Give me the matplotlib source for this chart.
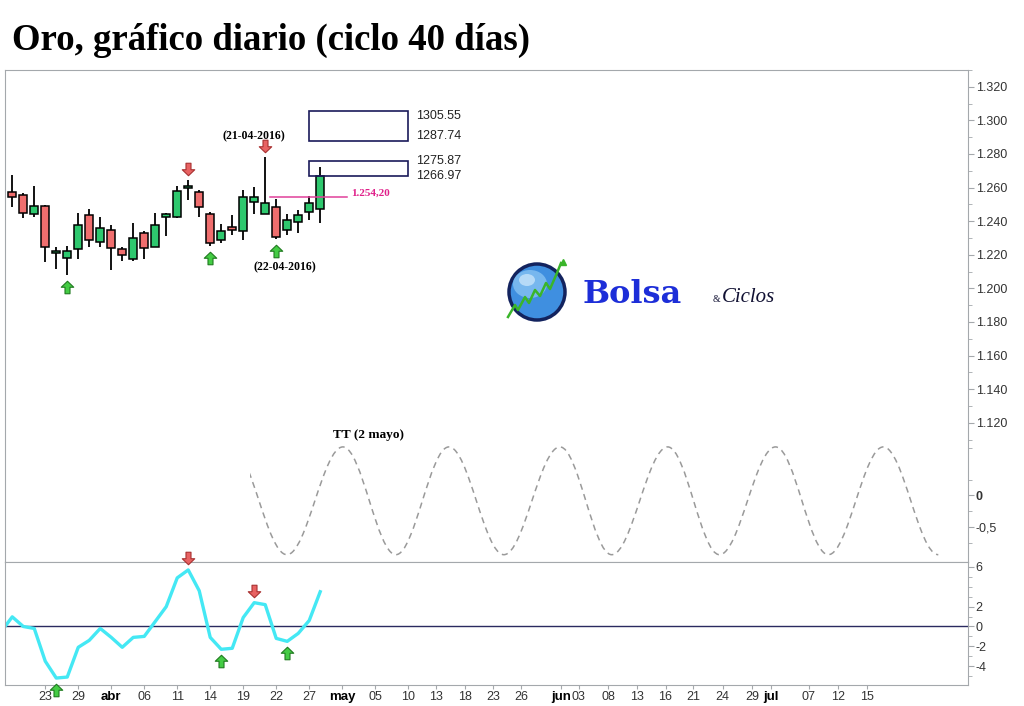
import numpy as np
import matplotlib
matplotlib.use('Agg')
import matplotlib.pyplot as plt
from matplotlib.path import Path
from matplotlib.patches import PathPatch, Rectangle, Circle, Ellipse
from matplotlib.transforms import offset_copy, Bbox, TransformedBbox

plt.rcParams['font.family'] = ['Liberation Sans', 'DejaVu Sans']

## daily bars, 18-03-2016 .. 28-04-2016 (bar index 0..28)
opens = [1257.5, 1255.3, 1244.5, 1248.8, 1221.0, 1218.1, 1223.4, 1243.5, 1227.5, 1234.5,
         1223.3, 1217.2, 1232.9, 1224.5, 1242.2, 1242.2, 1259.8, 1257.5, 1244.1, 1228.8,
         1236.3, 1234.0, 1251.6, 1244.5, 1248.6, 1234.7, 1239.8, 1245.7, 1247.5]
highs = [1267.6, 1256.9, 1261.2, 1249.8, 1224.5, 1225.1, 1245.1, 1247.1, 1242.4, 1237.6,
         1224.9, 1239.2, 1233.9, 1245.1, 1244.7, 1261.2, 1264.7, 1258.8, 1245.7, 1238.2,
         1243.5, 1258.8, 1260.2, 1278.1, 1253.5, 1244.1, 1246.5, 1254.9, 1272.2]
lows = [1248.6, 1241.8, 1242.5, 1215.7, 1211.4, 1207.8, 1217.2, 1224.9, 1224.9, 1210.8,
        1216.1, 1216.3, 1217.2, 1224.5, 1231.0, 1241.8, 1252.9, 1242.2, 1225.5, 1226.9,
        1232.0, 1229.0, 1244.1, 1244.0, 1229.4, 1231.8, 1232.8, 1240.8, 1239.2]
closes = [1254.6, 1244.6, 1248.8, 1224.5, 1222.2, 1222.2, 1237.6, 1228.6, 1235.7, 1224.0,
          1219.8, 1229.8, 1223.9, 1237.6, 1244.1, 1258.2, 1261.2, 1248.7, 1226.9, 1234.3,
          1234.9, 1254.5, 1254.5, 1250.6, 1230.8, 1240.6, 1243.5, 1250.6, 1266.6]

## oscillator (bar index -1..28)
osc = [-0.5, 0.97, 0.0, -0.2, -3.5, -5.2, -5.1, -2.1, -1.4, -0.2, -1.1, -2.1, -1.1, -1.0, 0.5,
       2.0, 4.9, 5.7, 3.6, -1.1, -2.3, -2.2, 0.9, 2.4, 2.2, -1.2, -1.5, -0.7, 0.6, 3.5]

## turning signals (bar index)
price_up = [5, 18, 24]
price_down = [16, 23]
osc_up = [4, 19, 25]
osc_down = [16, 22]

## target zones and levels
zone_lo = [1287.74, 1266.97]
zone_hi = [1305.55, 1275.87]
zone_start, zone_end = 27, 36
level = 1254.20
level_start, level_end = 23, 30

## 40 day cycle projection: turning points (bar position, value)
cycle_x = [19.9, 24.97, 30.06, 34.88, 39.7, 44.7, 49.8, 54.5, 59.6, 64.3, 69.4, 74.2, 79.2, 84.2]
cycle_y = [0.77, -0.94, 0.77, -0.94, 0.77, -0.94, 0.77, -0.94, 0.77, -0.94, 0.77, -0.94, 0.77, -0.94]
cycle_from = 21.6

## axis ticks
xtick_labels = ['23', '29', 'abr', '06', '11', '14', '19', '22', '27', 'may', '05', '10', '13', '18',
                '23', '26', 'jun', '03', '08', '13', '16', '21', '24', '29', 'jul', '07', '12', '15']
xtick_pos = [3, 6, 9, 12, 15, 18, 21, 24, 27, 30, 33, 36, 38.5, 41.2, 43.7, 46.3, 49.9, 51.5,
             54.2, 56.8, 59.4, 61.9, 64.6, 67.3, 69.0, 72.4, 75.1, 77.7]
months = ['abr', 'may', 'jun', 'jul']
price_ticks = [1120, 1140, 1160, 1180, 1200, 1220, 1240, 1260, 1280, 1300, 1320]

W, H = 1024.0, 706.0
GRAY = '#a4a8ac'


def px_box(x0, y0, x1, y1):
    '''figure rect from pixel corners (top-left origin)'''
    return [x0 / W, 1 - y1 / H, (x1 - x0) / W, (y1 - y0) / H]


def arrow_marker(up=True):
    v = [(-0.2, -0.5), (0.2, -0.5), (0.2, 0.02), (0.5, 0.02), (0.0, 0.5), (-0.5, 0.02),
         (-0.2, 0.02), (-0.2, -0.5)]
    if not up:
        v = [(a, -b) for a, b in v]
    return Path(v, [Path.MOVETO] + [Path.LINETO] * 6 + [Path.CLOSEPOLY])


def style_axis(a):
    for s in a.spines.values():
        s.set_color(GRAY)
    a.tick_params(axis='y', which='both', direction='out', color=GRAY, labelsize=9, pad=1.5,
                  labelcolor='#333333', left=False, right=True, labelleft=False, labelright=True)
    a.tick_params(axis='y', which='major', length=4)
    a.tick_params(axis='y', which='minor', length=3)


fig = plt.figure(figsize=(10.24, 7.06), dpi=100)
fig.text(12 / W, 1 - 50 / H, 'Oro, gráfico diario (ciclo 40 días)', fontsize=26.5,
         fontweight='bold', family='Liberation Serif', va='baseline')

ax = fig.add_axes(px_box(5, 70, 968, 562))
ax_o = fig.add_axes(px_box(5, 562, 968, 685), sharex=ax)
ax_c = ax.twinx()

x = np.arange(len(opens))
o = np.array(opens)
c = np.array(closes)
cols = ['#2ec86e' if cc >= oo else '#f06e6e' for oo, cc in zip(o, c)]
ax.vlines(x, lows, highs, color='black', lw=1.3, zorder=2)
ax.bar(x, np.maximum(np.abs(c - o), 0.6), bottom=np.minimum(o, c), width=0.72, color=cols,
       edgecolor='black', lw=1.1, zorder=3)

# target zones
for lo, hi in zip(zone_lo, zone_hi):
    ax.add_patch(Rectangle((zone_start, lo), zone_end - zone_start, hi - lo, fill=False,
                           edgecolor='#1a1a5a', lw=1.2, zorder=3))
    inset = 5 if hi - lo > 10 else 0
    ax.text(zone_end + 0.7, hi, '%.2f' % hi, fontsize=9, va='center', color='#222222',
            transform=offset_copy(ax.transData, fig=fig, y=-inset, units='dots'))
    ax.text(zone_end + 0.7, lo, '%.2f' % lo, fontsize=9, va='center', color='#222222',
            transform=offset_copy(ax.transData, fig=fig, y=inset, units='dots'))

# level line
ax.plot([level_start + 0.4, level_end + 0.4], [level, level], color='#e0409a', lw=1.1, zorder=4)
ax.text(level_end + 0.8, level, '1.254,20', color='#e0208a', fontsize=8, fontweight='bold',
        family='Liberation Serif', va='bottom')

# signal arrows
up_m = arrow_marker(True)
dn_m = arrow_marker(False)
for i in price_up:
    ax.plot(i, lows[i], marker=up_m, ms=9, mfc='#44cc44', mec='#1f7a1f', mew=0.8, clip_on=False,
            transform=offset_copy(ax.transData, fig=fig, y=-12, units='dots'), zorder=5)
for i in price_down:
    ax.plot(i, highs[i], marker=dn_m, ms=9, mfc='#e86262', mec='#a83030', mew=0.8, clip_on=False,
            transform=offset_copy(ax.transData, fig=fig, y=11, units='dots'), zorder=5)

ax.text(23, highs[23], '(21-04-2016)', fontsize=8.5, fontweight='bold', family='Liberation Serif',
        ha='center', va='center',
        transform=offset_copy(ax.transData, fig=fig, x=-11, y=21, units='dots'))
ax.text(24, lows[24], '(22-04-2016)', fontsize=8.5, fontweight='bold', family='Liberation Serif',
        ha='center', va='center',
        transform=offset_copy(ax.transData, fig=fig, x=9, y=-28, units='dots'))

ax.set_xlim(-0.66, 86.9)
ax.set_ylim(1037.1, 1326.5)
ax.set_yticks(price_ticks)
ax.set_yticklabels(['1.%03d' % (t - 1000) for t in price_ticks])
for t, lab in zip(price_ticks, ax.get_yticklabels()):
    if t % 100 == 0:
        lab.set_fontweight('bold')
        lab.set_color('black')
ax.set_yticks([t + 10 for t in price_ticks[:-1]] + [1110, 1330], minor=True)
style_axis(ax)
ax.tick_params(axis='x', which='both', bottom=False, labelbottom=False)

# cycle projection
verts = [(cycle_x[0], cycle_y[0])]
codes = [Path.MOVETO]
for k in range(1, len(cycle_x)):
    x0, y0 = cycle_x[k - 1], cycle_y[k - 1]
    x1, y1 = cycle_x[k], cycle_y[k]
    dx = x1 - x0
    verts += [(x0 + 0.36 * dx, y0), (x1 - 0.36 * dx, y1), (x1, y1)]
    codes += [Path.CURVE4] * 3
wave = PathPatch(Path(verts, codes), fill=False, edgecolor='#9a9a9a', lw=1.1, ls=(0, (4, 3)))
ax_c.add_patch(wave)
wave.set_clip_box(TransformedBbox(Bbox.from_extents(cycle_from, -5, 100, 5), ax_c.transData))
ax_c.set_ylim(-1.056, 6.75)
ax_c.set_yticks([0, -0.5])
ax_c.set_yticklabels(['0', '-0,5'])
ax_c.get_yticklabels()[0].set_fontweight('bold')
ax_c.get_yticklabels()[0].set_color('black')
ax_c.set_yticks([0.75, 0.25, -0.25, -0.75], minor=True)
style_axis(ax_c)
for s in ax_c.spines.values():
    s.set_visible(False)
ax_c.text(cycle_x[2] - 0.9, cycle_y[2] + 0.1, 'TT (2 mayo)', fontsize=9.5, fontweight='bold',
          family='Liberation Serif', va='bottom')

# oscillator panel
ox = np.arange(-1, len(osc) - 1)
ax_o.axhline(0, color='#2a2a60', lw=1)
ax_o.plot(ox, osc, color='#44e8f4', lw=2.4, solid_joinstyle='round')
for i in osc_up:
    ax_o.plot(i, osc[i + 1], marker=up_m, ms=9, mfc='#44cc44', mec='#1f7a1f', mew=0.8,
              clip_on=False, transform=offset_copy(ax_o.transData, fig=fig, y=-12, units='dots'),
              zorder=5)
for i in osc_down:
    ax_o.plot(i, osc[i + 1], marker=dn_m, ms=9, mfc='#e86262', mec='#a83030', mew=0.8,
              clip_on=False, transform=offset_copy(ax_o.transData, fig=fig, y=12, units='dots'),
              zorder=5)
ax_o.set_ylim(-5.9, 6.5)
ax_o.set_yticks([6, 2, 0, -2, -4])
ax_o.set_yticklabels(['6', '2', '0', '-2', '-4'])
ax_o.get_yticklabels()[2].set_fontweight('bold')
ax_o.set_yticks([5, 4, 3, 1, -1, -3, -5], minor=True)
style_axis(ax_o)
ax_o.set_xticks(xtick_pos)
ax_o.set_xticklabels(xtick_labels)
ax_o.tick_params(axis='x', which='both', direction='out', length=3, color=GRAY, labelsize=9,
                 labelcolor='#333333', pad=1.5)
for lab in ax_o.get_xticklabels():
    if lab.get_text() in months:
        lab.set_fontweight('bold')
        lab.set_color('black')
        lab.set_fontsize(9.5)

# logo
ax_l = fig.add_axes(px_box(500, 250, 800, 330))
ax_l.set_xlim(500, 800)
ax_l.set_ylim(330, 250)
ax_l.axis('off')
ax_l.add_patch(Circle((537, 292), 28, facecolor='#3f8fe0', edgecolor='#13235e', lw=2.5))
ax_l.add_patch(Ellipse((530, 284), 34, 28, facecolor='#86c2f2', edgecolor='none', alpha=0.8))
ax_l.add_patch(Ellipse((527, 280), 16, 12, facecolor='#c6e4fa', edgecolor='none', alpha=0.8))
zz = [(508, 317), (515, 305), (518, 310), (525, 297), (529, 303), (535, 290), (540, 296),
      (546, 283), (550, 289), (557, 273), (561, 263)]
ax_l.plot([p[0] for p in zz], [p[1] for p in zz], color='#3ab52a', lw=1.8)
ax_l.plot(563, 262, marker='^', ms=5, color='#3ab52a')
ax_l.text(582, 303, 'Bolsa', fontsize=23, fontweight='bold', family='DejaVu Serif',
          color='#1d2ed8', va='baseline')
ax_l.text(713, 302, '&', fontsize=7, family='Liberation Serif', va='baseline', color='#111133')
ax_l.text(722, 302, 'Ciclos', fontsize=15, style='italic', family='Liberation Serif',
          va='baseline', color='#111133')

fig.savefig('out.png', dpi=100)
